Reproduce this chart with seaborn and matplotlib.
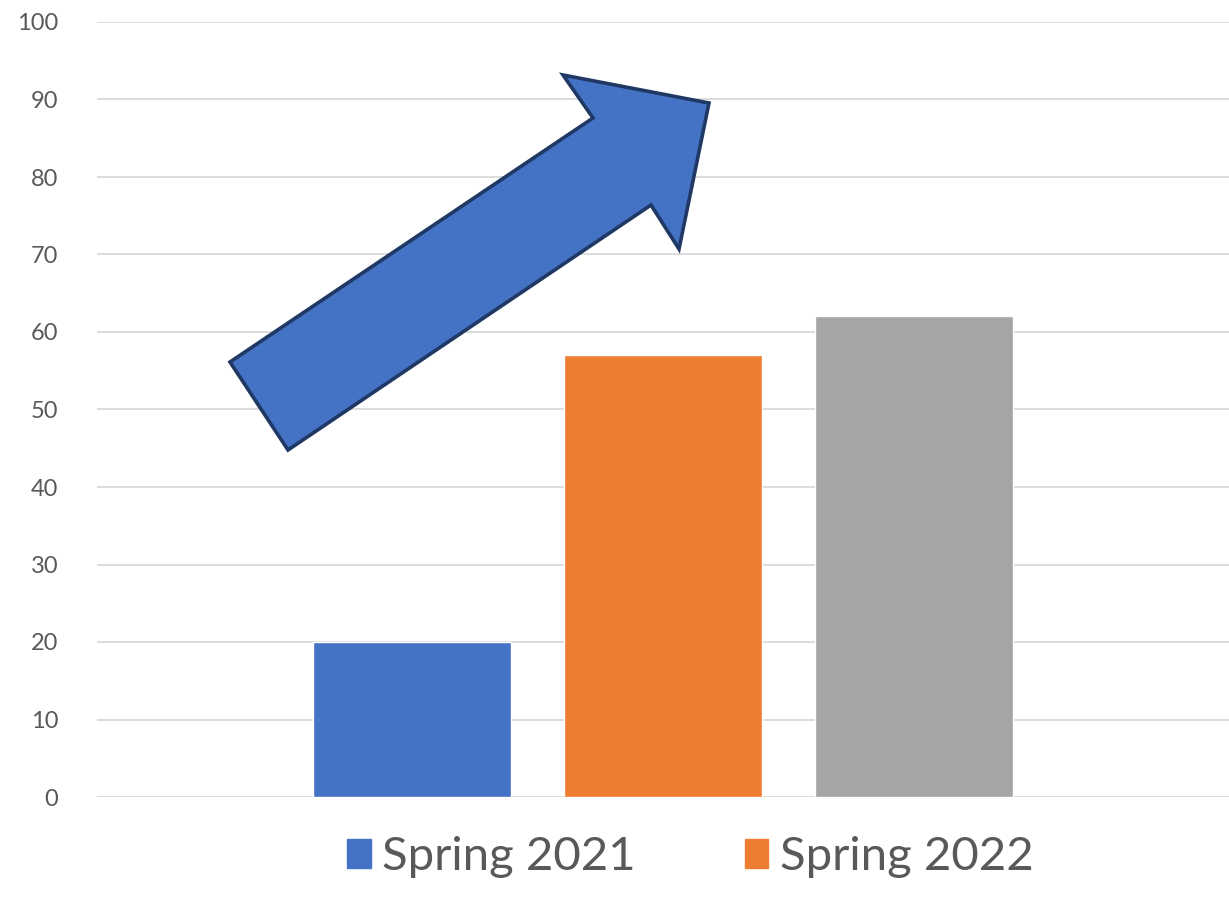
import matplotlib
matplotlib.use("Agg")
import matplotlib.pyplot as plt
from matplotlib.patches import Polygon
import pandas as pd
import seaborn as sns

# chart values
group = ["All"]
seasons = ["Spring 2021", "Spring 2022", "Spring 2023"]
scores = [20, 57, 62]
colors = ["#4472C4", "#ED7D31", "#A5A5A5"]
y_ticks = [0, 10, 20, 30, 40, 50, 60, 70, 80, 90, 100]

df = pd.DataFrame({"group": group * len(seasons), "season": seasons, "score": scores})

sns.set_theme(style="white")
plt.rcParams["font.family"] = ["Lato", "DejaVu Sans"]

fig = plt.figure(figsize=(12.29, 9.05), dpi=100)
ax = fig.add_axes([97 / 1229, 108 / 905, 1 - 97 / 1229, 775 / 905])

sns.barplot(data=df, x="group", y="score", hue="season", palette=colors,
            width=0.8, gap=0.21, saturation=1, ax=ax, legend=False, zorder=3)

ax.set_ylim(0, 100)
ax.set_xlim(-0.601, 0.601)
ax.set_yticks(y_ticks)
ax.set_yticklabels([str(t) for t in y_ticks])
ax.yaxis.grid(True, color="#D9D9D9", linewidth=1.3, zorder=0)
ax.set_axisbelow(True)
ax.set_xticks([])
ax.set_xlabel("")
ax.set_ylabel("")
for s in ax.spines.values():
    s.set_visible(False)
ax.tick_params(axis="y", length=0, pad=28, labelsize=17, labelcolor="#595959")

# legend (third entry falls outside the frame in the original)
handles = [plt.Rectangle((0, 0), 1, 1, color=c) for c in colors[:2]]
fig.legend(handles, seasons[:2], loc="center left",
           bbox_to_anchor=(347 / 1229, 1 - 857 / 905), ncol=2, frameon=False,
           fontsize=34, labelcolor="#595959", handlelength=0.5, handleheight=0.55,
           handletextpad=0.25, columnspacing=2.3, borderpad=0, borderaxespad=0)

# upward arrow drawn over the chart
arrow_px = [(230, 362), (593, 118), (563, 75), (709, 103), (679, 249),
            (651, 205), (288, 450)]
arrow = Polygon([(x / 1229, 1 - y / 905) for x, y in arrow_px], closed=True,
                transform=fig.transFigure, facecolor="#4472C4",
                edgecolor="#1F3864", linewidth=2.6, zorder=10)
fig.patches.append(arrow)

fig.savefig("out.png", dpi=100)
